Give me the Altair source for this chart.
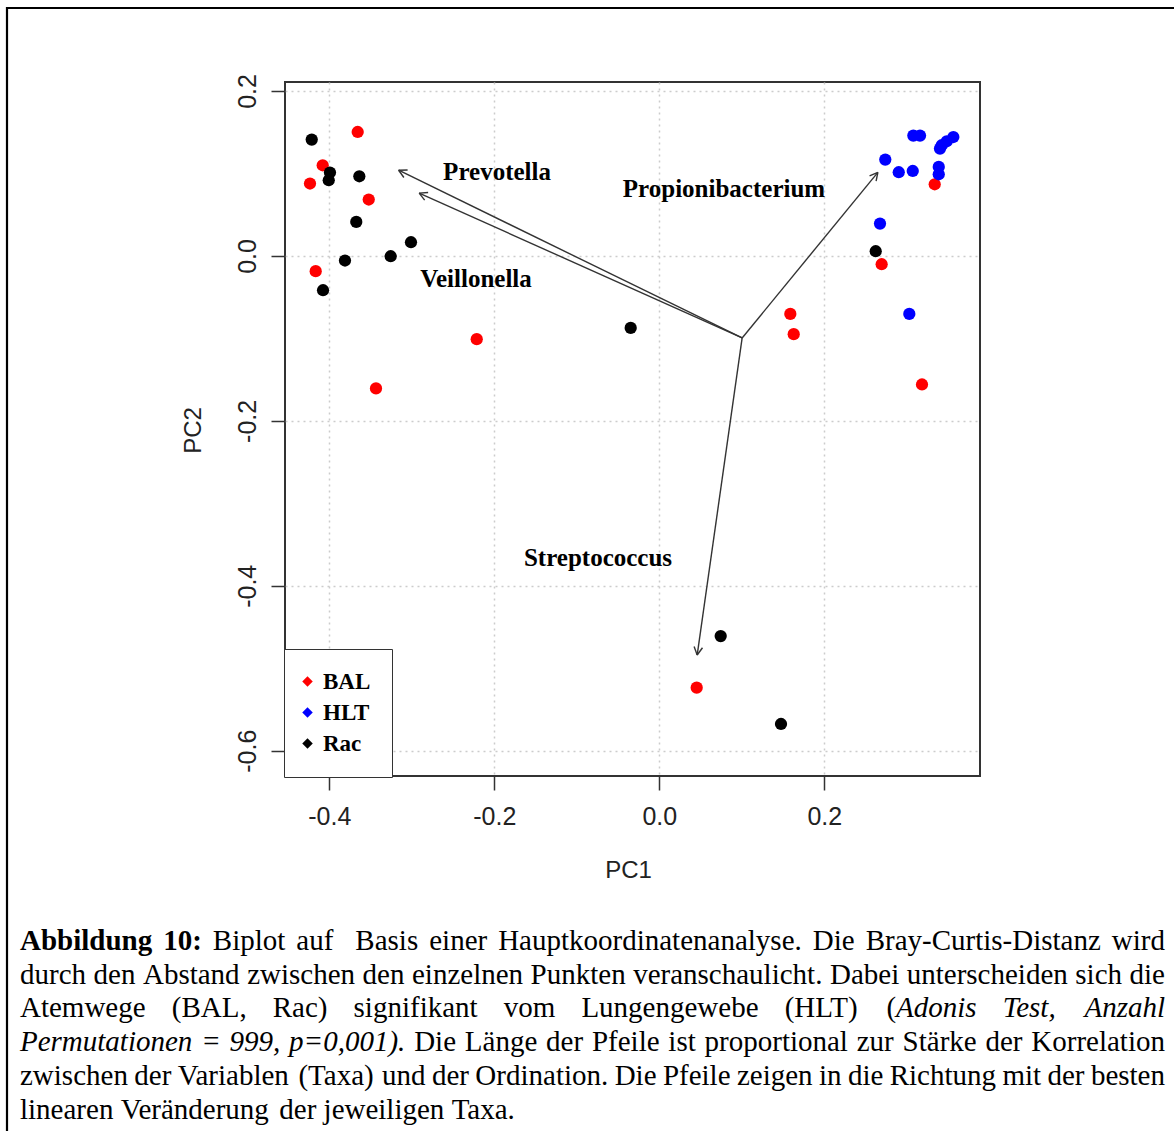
import math
import altair as alt
import pandas as pd

# ---------------- data ----------------
groups = ["BAL", "HLT", "Rac"]
bal_x = [-0.3656, -0.4080, -0.4234, -0.3522, -0.4165, -0.2213, -0.3434, 0.1588, 0.1629, 0.3338, 0.2695, 0.3184, 0.0453]
bal_y = [0.1503, 0.1099, 0.0878, 0.0684, -0.0185, -0.1010, -0.1607, -0.0703, -0.0949, 0.0869, -0.0101, -0.1559, -0.5236]
hlt_x = [0.3079, 0.3160, 0.3564, 0.3484, 0.3423, 0.3402, 0.2739, 0.2902, 0.3072, 0.3387, 0.3387, 0.2675, 0.3030]
hlt_y = [0.1459, 0.1459, 0.1442, 0.1390, 0.1342, 0.1302, 0.1168, 0.1015, 0.1030, 0.1079, 0.0990, 0.0392, -0.0703]
rac_x = [-0.4213, -0.3992, -0.4007, -0.3636, -0.3673, -0.3010, -0.3256, -0.3810, -0.4076, -0.0347, 0.2623, 0.0744, 0.1475]
rac_y = [0.1411, 0.1011, 0.0918, 0.0966, 0.0412, 0.0166, -0.0004, -0.0056, -0.0416, -0.0873, 0.0057, -0.4610, -0.5676]

taxa = ["Prevotella", "Veillonella", "Propionibacterium", "Streptococcus"]
origin_x, origin_y = 0.1004, -0.0995
tip_x = [-0.3160, -0.2911, 0.2649, 0.0459]
tip_y = [0.1039, 0.0762, 0.1013, -0.4840]
label_x = [-0.1967, -0.2222, 0.0784, -0.0743]
label_y = [0.1015, -0.0282, 0.0808, -0.3664]

x_ticks = [-0.4, -0.2, 0.0, 0.2]
y_ticks = [0.2, 0.0, -0.2, -0.4, -0.6]
x_domain = [-0.4537, 0.3887]
y_domain = [-0.6307, 0.2109]
colors = ["#ff0000", "#0000ff", "#000000"]

caption_runs = [
    [("Abbildung 10:", "b"), (" Biplot auf  Basis einer Hauptkoordinatenanalyse. Die Bray-Curtis-Distanz wird", "r")],
    [("durch den Abstand zwischen den einzelnen Punkten veranschaulicht. Dabei unterscheiden sich die", "r")],
    [("Atemwege (BAL, Rac) signifikant vom Lungengewebe (HLT) (", "r"), ("Adonis Test, Anzahl", "i")],
    [("Permutationen = 999, p=0,001).", "i"), (" Die Länge der Pfeile ist proportional zur Stärke der Korrelation", "r")],
    [("zwischen der Variablen (Taxa) und der Ordination. Die Pfeile zeigen in die Richtung mit der besten", "r")],
    [("linearen Veränderung der jeweiligen Taxa.", "r")],
]
caption_justify = [True, True, True, True, True, False]

# ---------------- layout constants ----------------
W, H = 695, 694
PAD_L, PAD_T = 285, 82
CAP_FS = 29
CAP_LEFT, CAP_RIGHT = 20, 1165
CAP_BASE0, CAP_STEP = 950, 33.7

# Times-compatible advance widths (1/1000 em) for Liberation Serif
_reg = {" ": 250, "(": 333, ")": 333, ",": 250, "-": 333, ".": 250, ":": 278, "=": 564,
        "A": 722, "B": 667, "C": 667, "D": 722, "E": 611, "F": 556, "G": 722, "H": 722, "I": 333,
        "J": 389, "K": 722, "L": 611, "M": 889, "N": 722, "O": 722, "P": 556, "Q": 722, "R": 667,
        "S": 556, "T": 611, "U": 722, "V": 722, "W": 944, "X": 722, "Y": 722, "Z": 611,
        "a": 444, "b": 500, "c": 444, "d": 500, "e": 444, "f": 333, "g": 500, "h": 500, "i": 278,
        "j": 278, "k": 500, "l": 278, "m": 778, "n": 500, "o": 500, "p": 500, "q": 500, "r": 333,
        "s": 389, "t": 278, "u": 500, "v": 500, "w": 722, "x": 500, "y": 500, "z": 444,
        "ä": 444, "ö": 500, "ü": 500, "ß": 500}
_bold = {" ": 250, ":": 333, "A": 722, "b": 556, "d": 556, "g": 500, "i": 278, "l": 278, "n": 556, "u": 556}
_ital = {" ": 250, "(": 333, ")": 333, ",": 250, ".": 250, "=": 675, "A": 611, "P": 611, "T": 556,
         "a": 500, "d": 500, "e": 444, "h": 500, "i": 278, "l": 278, "m": 722, "n": 500, "o": 500,
         "p": 500, "r": 389, "s": 389, "t": 278, "u": 500, "z": 389}
_metrics = {"r": _reg, "b": _bold, "i": _ital}


def text_width(s, style):
    table = _metrics[style]
    return sum(table.get(ch, 500) for ch in s) * CAP_FS / 1000.0


def layout_caption():
    rows = []
    for li, runs in enumerate(caption_runs):
        words, gaps = [], []
        cur, cur_run_text, cur_style = [], "", None
        for text, style in runs:
            for ch in text:
                if ch == " ":
                    if cur_run_text:
                        cur.append((cur_run_text, cur_style))
                        cur_run_text = ""
                    if cur:
                        words.append(cur)
                        cur = []
                        gaps.append(0)
                    if gaps:
                        gaps[-1] += 1
                else:
                    if cur_style is not None and style != cur_style and cur_run_text:
                        cur.append((cur_run_text, cur_style))
                        cur_run_text = ""
                    cur_style = style
                    cur_run_text += ch
        if cur_run_text:
            cur.append((cur_run_text, cur_style))
        if cur:
            words.append(cur)
        gaps = gaps[: len(words) - 1]
        space_w = 250 * CAP_FS / 1000.0
        natural = sum(text_width(t, s) for w in words for t, s in w) + sum(gaps) * space_w
        extra = 0.0
        if caption_justify[li] and sum(gaps) > 0:
            extra = (CAP_RIGHT - CAP_LEFT - natural) / sum(gaps)
        x = CAP_LEFT
        y = CAP_BASE0 + li * CAP_STEP
        for wi, w in enumerate(words):
            for t, s in w:
                rows.append({"px": x - PAD_L, "py": y - PAD_T, "text": t, "style": s})
                x += text_width(t, s)
            if wi < len(gaps):
                x += gaps[wi] * (space_w + extra)
    return pd.DataFrame(rows)


# ---------------- tables ----------------
df_pts = pd.concat([
    pd.DataFrame({"PC1": bal_x, "PC2": bal_y, "group": "BAL"}),
    pd.DataFrame({"PC1": hlt_x, "PC2": hlt_y, "group": "HLT"}),
    pd.DataFrame({"PC1": rac_x, "PC2": rac_y, "group": "Rac"}),
], ignore_index=True)

df_arrows = pd.DataFrame({"taxon": taxa, "x0": origin_x, "y0": origin_y, "x1": tip_x, "y1": tip_y})

head_len = 9.0 / 825.0
head_rows = []
for t, tx, ty in zip(taxa, tip_x, tip_y):
    dx, dy = tx - origin_x, ty - origin_y
    n = math.hypot(dx, dy)
    ux, uy = dx / n, dy / n
    for ang in (math.radians(28), -math.radians(28)):
        vx = ux * math.cos(ang) - uy * math.sin(ang)
        vy = ux * math.sin(ang) + uy * math.cos(ang)
        head_rows.append({"taxon": t, "x0": tx, "y0": ty, "x1": tx - head_len * vx, "y1": ty - head_len * vy})
df_heads = pd.DataFrame(head_rows)

df_labels = pd.DataFrame({"taxon": taxa, "lx": label_x, "ly": label_y})
df_cap = layout_caption()

# ---------------- scales / axes ----------------
fmt = "replace(format(datum.value, '.1f'), '\u2212', '-')"
xscale = alt.Scale(domain=x_domain, nice=False, zero=False)
yscale = alt.Scale(domain=y_domain, nice=False, zero=False)
xaxis = alt.Axis(values=x_ticks, labelExpr=fmt, title="PC1", grid=True, domain=False,
                 tickSize=14, labelPadding=14, titleX=343, titleY=101, titleBaseline="alphabetic",
                 titleAlign="center")
yaxis = alt.Axis(values=y_ticks, labelExpr=fmt, title="PC2", grid=True, domain=False,
                 tickSize=14, labelPadding=16, labelAngle=270, labelAlign="center",
                 labelBaseline="alphabetic", titleX=-85, titleY=348, titleAngle=270,
                 titleBaseline="alphabetic", titleAlign="center")


def X(field):
    return alt.X(field, type="quantitative", scale=xscale, axis=xaxis)


def Y(field):
    return alt.Y(field, type="quantitative", scale=yscale, axis=yaxis)


points = alt.Chart(df_pts).mark_circle(size=150, opacity=1).encode(
    x=X("PC1"), y=Y("PC2"),
    color=alt.Color("group:N", scale=alt.Scale(domain=groups, range=colors),
                    legend=alt.Legend(title=None, orient="none", legendX=-1, legendY=567,
                                      fillColor="white", strokeColor="#333", padding=21,
                                      rowPadding=7, symbolType="diamond", symbolSize=110,
                                      symbolStrokeWidth=0, symbolOffset=-9, labelOffset=4,
                                      labelFont="Liberation Serif", labelFontWeight="bold",
                                      labelFontSize=23, labelColor="black")),
)

arrows = alt.Chart(df_arrows).mark_rule(color="#333", strokeWidth=1.4).encode(
    x=X("x0"), y=Y("y0"), x2="x1", y2="y1")
heads = alt.Chart(df_heads).mark_rule(color="#333", strokeWidth=1.4).encode(
    x=X("x0"), y=Y("y0"), x2="x1", y2="y1")
labels = alt.Chart(df_labels).mark_text(font="Liberation Serif", fontWeight="bold", fontSize=25,
                                        color="black", baseline="middle", align="center").encode(
    x=X("lx"), y=Y("ly"), text="taxon:N")

plot = alt.layer(points, arrows, heads, labels)


def cap_layer(style, weight, fstyle):
    d = df_cap[df_cap["style"] == style]
    return alt.Chart(d).mark_text(font="Liberation Serif", fontSize=CAP_FS, fontWeight=weight,
                                  fontStyle=fstyle, align="left", baseline="alphabetic",
                                  color="black").encode(
        x=alt.X("px:Q", scale=None, axis=None),
        y=alt.Y("py:Q", scale=None, axis=None),
        text="text:N")


border = alt.Chart(pd.DataFrame({"k": [0]})).mark_rect(
    fillOpacity=0, stroke="black", strokeWidth=2.2).encode(
    x=alt.value(7 - PAD_L), x2=alt.value(1190 - PAD_L),
    y=alt.value(8 - PAD_T), y2=alt.value(1150 - PAD_T))

chart = alt.layer(
    plot,
    cap_layer("r", "normal", "normal"),
    cap_layer("b", "bold", "normal"),
    cap_layer("i", "normal", "italic"),
    border,
).resolve_scale(x="independent", y="independent").properties(
    width=W, height=H,
    padding={"left": PAD_L, "top": PAD_T, "right": 1174 - PAD_L - W, "bottom": 1131 - PAD_T - H},
    autosize=alt.AutoSizeParams(type="none"),
    background="white",
).configure_view(
    stroke="#333", strokeWidth=2
).configure_axis(
    labelFont="Liberation Sans", labelFontSize=25, labelColor="#222",
    titleFont="Liberation Sans", titleFontSize=24, titleFontWeight="normal", titleColor="#222",
    tickColor="#333", tickWidth=1.5,
    gridColor="#cccccc", gridDash=[2, 4], gridWidth=1.5,
)

chart.save("out.html", embed_options={"renderer": "svg", "actions": False})
